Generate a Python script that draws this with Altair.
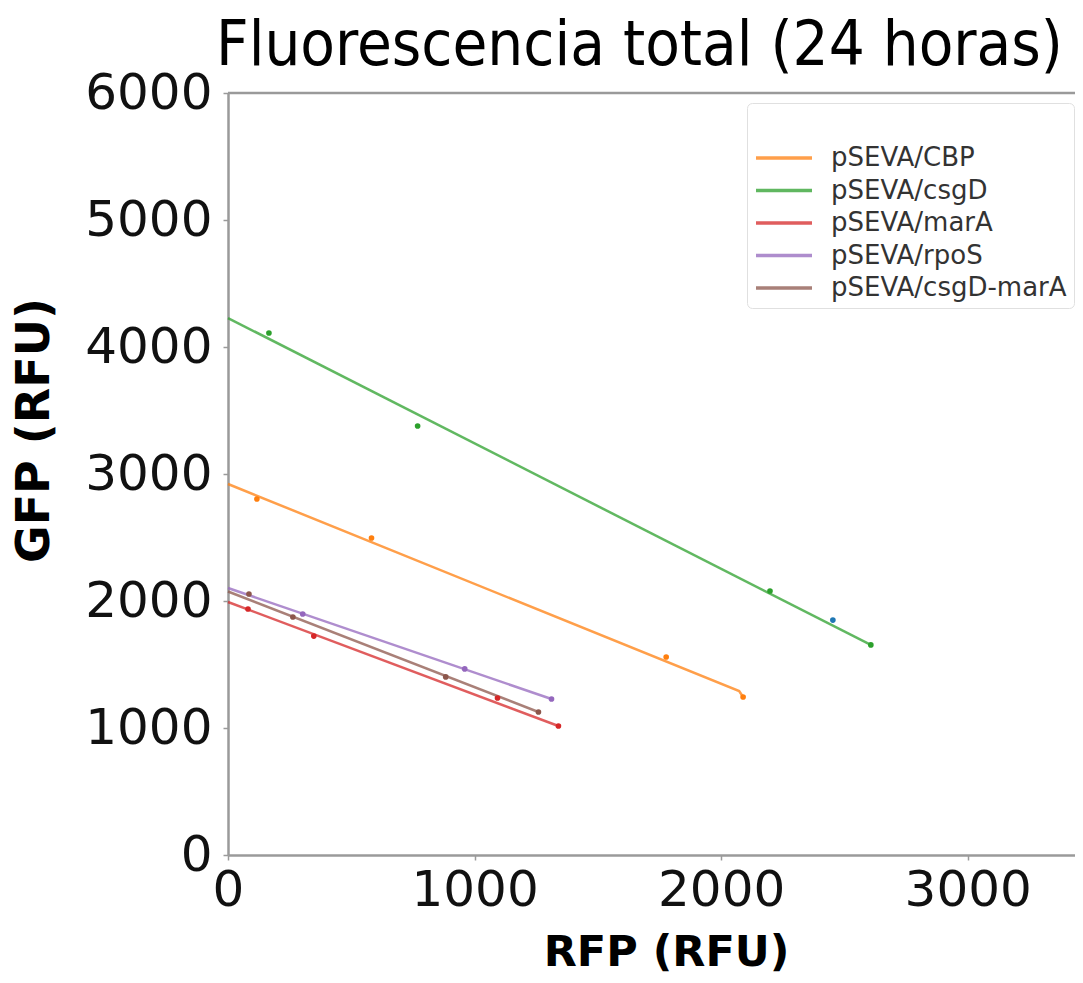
import altair as alt
import pandas as pd

# ---- data ----
series = ["pSEVA/CBP", "pSEVA/csgD", "pSEVA/marA", "pSEVA/rpoS", "pSEVA/csgD-marA"]
colors = ["#ff7f0e", "#2ca02c", "#d62728", "#9467bd", "#8c564b"]

# measured points (RFP, GFP)
cbp_x = [117, 582, 1777, 2089]
cbp_y = [2803, 2496, 1559, 1244]
csgd_x = [166, 769, 2198, 2607]
csgd_y = [4110, 3378, 2079, 1654]
mara_x = [81, 348, 1093, 1340]
mara_y = [1937, 1724, 1236, 1016]
rpos_x = [303, 960, 1312]
rpos_y = [1898, 1465, 1228]
csgdmara_x = [85, 263, 883, 1259]
csgdmara_y = [2055, 1874, 1402, 1126]

# extra (unlabelled) point
extra_x = [2453]
extra_y = [1850]

# fitted lines (vertices)
cbp_line_x = [0, 2073, 2089]
cbp_line_y = [2921, 1291, 1244]
csgd_line_x = [0, 2607]
csgd_line_y = [4228, 1654]
mara_line_x = [0, 1340]
mara_line_y = [1992, 1016]
rpos_line_x = [0, 1312]
rpos_line_y = [2102, 1228]
csgdmara_line_x = [0, 1259]
csgdmara_line_y = [2075, 1126]

x_ticks = [0, 1000, 2000, 3000]
y_ticks = [0, 1000, 2000, 3000, 4000, 5000, 6000]

# ---- tables ----
pts = [(cbp_x, cbp_y), (csgd_x, csgd_y), (mara_x, mara_y), (rpos_x, rpos_y), (csgdmara_x, csgdmara_y)]
lns = [(cbp_line_x, cbp_line_y), (csgd_line_x, csgd_line_y), (mara_line_x, mara_line_y),
       (rpos_line_x, rpos_line_y), (csgdmara_line_x, csgdmara_line_y)]

pt_rows, ln_rows = [], []
for s, (xs_, ys_) in zip(series, pts):
    for a, b in zip(xs_, ys_):
        pt_rows.append({"serie": s, "x": a, "y": b})
for s, (xs_, ys_) in zip(series, lns):
    for i, (a, b) in enumerate(zip(xs_, ys_)):
        ln_rows.append({"serie": s, "x": a, "y": b, "o": i})
pt_df = pd.DataFrame(pt_rows)
ln_df = pd.DataFrame(ln_rows)
extra_df = pd.DataFrame({"x": extra_x, "y": extra_y})
top_df = pd.DataFrame({"y": [max(y_ticks)]})

AX = "#9a9a9a"
FONT = "DejaVu Sans"

xs = alt.Scale(domain=[0, 3435], nice=False, zero=False)
ys = alt.Scale(domain=[0, 6000], nice=False, zero=False)
cs = alt.Scale(domain=series, range=colors)

x_axis = alt.Axis(values=x_ticks, format="d", title="RFP (RFU)", grid=False, labelFlush=False,
                  labelFont=FONT, labelFontSize=50, labelColor="#111", labelPadding=5,
                  tickSize=5, tickColor=AX, tickWidth=1.5, domainColor=AX, domainWidth=2.5,
                  titleFont=FONT, titleFontSize=43, titleFontWeight="bold", titleColor="#000",
                  titleX=438, titleY=110, titleAlign="center", titleBaseline="alphabetic")
y_axis = alt.Axis(values=y_ticks, format="d", title="GFP (RFU)", grid=False, labelFlush=False,
                  labelFont=FONT, labelFontSize=50, labelColor="#111", labelPadding=11,
                  tickSize=5, tickColor=AX, tickWidth=1.5, domainColor=AX, domainWidth=2.5,
                  titleFont=FONT, titleFontSize=46, titleFontWeight="bold", titleColor="#000",
                  titleX=-194, titleY=337, titleAngle=270, titleAlign="center",
                  titleBaseline="middle")

lines = alt.Chart(ln_df).mark_line(strokeWidth=2.5, opacity=0.75).encode(
    x=alt.X("x:Q", scale=xs, axis=x_axis),
    y=alt.Y("y:Q", scale=ys, axis=y_axis),
    order="o:O",
    color=alt.Color("serie:N", scale=cs, legend=alt.Legend(
        title=" ", titleFontSize=20, titlePadding=12, orient="none", legendX=519, legendY=10,
        labelFont=FONT, labelFontSize=26, labelColor="#333", labelOffset=45, labelLimit=400,
        symbolType="M-1,0L3,0", symbolSize=784, symbolStrokeWidth=3.5,
        rowPadding=3.5, padding=7, strokeColor="#e0e0e0", cornerRadius=5,
        fillColor="white")),
)
points = alt.Chart(pt_df).mark_circle(size=32, opacity=1).encode(
    x="x:Q", y="y:Q",
    color=alt.Color("serie:N", scale=cs, legend=None),
)
extra = alt.Chart(extra_df).mark_circle(size=32, opacity=1, color="#1f77b4").encode(
    x="x:Q", y="y:Q")
top = alt.Chart(top_df).mark_rule(color=AX, strokeWidth=2.5).encode(y="y:Q")

chart = alt.layer(lines, points, extra, top).properties(
    width=847, height=762,
    title=alt.Title("Fluorescencia total (24 horas)", font="DejaVu Sans Condensed, DejaVu Sans",
                    fontSize=63, fontWeight="normal", color="#000", anchor="middle",
                    dx=-12, offset=-60, baseline="alphabetic"),
    autosize=alt.AutoSizeParams(type="none"),
    padding={"left": 220, "top": 85, "right": 0, "bottom": 120},
).configure_view(stroke=None)

chart.save("out.html", embed_options={"renderer": "svg", "actions": False})
